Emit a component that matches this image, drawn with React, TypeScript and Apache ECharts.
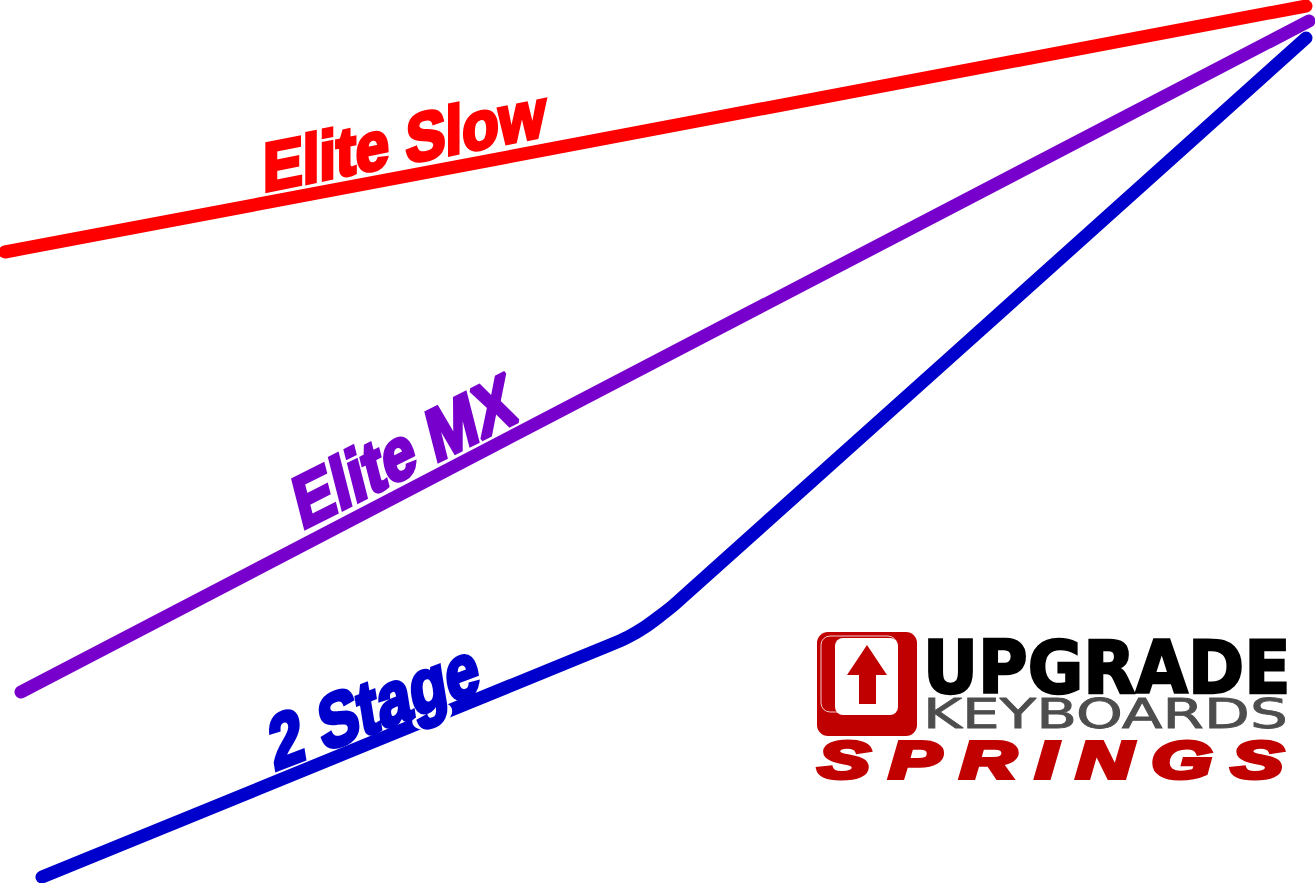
import React, { useEffect, useRef } from "react";
import * as echarts from "echarts";

const eliteSlowTravel = [5, 1306];
const eliteSlowForce = [631, 877];
const eliteMxTravel = [21, 1309];
const eliteMxForce = [191, 862];
const twoStageTravel = [42, 610, 628, 645, 660, 675, 1306];
const twoStageForce = [6, 238, 246, 256, 267, 279, 845];
const seriesNames = ["Elite Slow", "Elite MX", "2 Stage"];
const logoWords = ["UPGRADE", "KEYBOARDS", "SPRINGS"];

const RED = "#ff0000";
const PURPLE = "#7700cc";
const BLUE = "#0000cc";
const LOGO_RED = "#c00000";
const SPRINGS_RED = "#c10000";

function pairs(x: number[], y: number[]) {
  return x.map((v, i) => [v, y[i]]);
}

// Text with an arbitrary affine frame: u is the baseline direction, v the stem direction (downwards).
function affineText(
  text: string,
  color: string,
  cx: number,
  cy: number,
  u: [number, number],
  v: [number, number],
  font: any,
  z = 100,
  extra: any = {}
) {
  const [a, c] = u;
  const [b, d] = v;
  const E = (a + d) / 2, F = (a - d) / 2, G = (c + b) / 2, H = (c - b) / 2;
  const Q = Math.hypot(E, H), R = Math.hypot(F, G);
  const a1 = Math.atan2(G, F), a2 = Math.atan2(H, E);
  const theta = (a2 - a1) / 2, phi = (a2 + a1) / 2;
  return {
    type: "group",
    x: cx,
    y: cy,
    rotation: -phi,
    scaleX: Q + R,
    scaleY: Q - R,
    silent: true,
    children: [
      {
        type: "text",
        z,
        rotation: -theta,
        style: { text, fill: color, textAlign: "center", textVerticalAlign: "middle", ...font, ...extra },
      },
    ],
  };
}

function plain(text: string, fill: string, x: number, y: number, sx: number, sy: number, font: any, extra: any = {}) {
  return {
    type: "text",
    z: 100,
    x,
    y,
    scaleX: sx,
    scaleY: sy,
    silent: true,
    style: { text, fill, textAlign: "left", textVerticalAlign: "middle", ...font, ...extra },
  };
}

const labelFont = { fontFamily: "Liberation Sans", fontWeight: "bold", fontSize: 72 };

function buildGraphic() {
  return [
    affineText(seriesNames[0], RED, 404, 140, [0.83, -0.165], [0, 0.95], labelFont, 100, { stroke: RED, lineWidth: 4 }),
    affineText(seriesNames[1], PURPLE, 404, 451, [0.775, -0.39], [0.25, 0.98], labelFont, 100, { stroke: PURPLE, lineWidth: 4 }),
    { type: "ellipse", z: 50, silent: true, shape: { cx: 432, cy: 716, rx: 21, ry: 12 }, rotation: 0.38, originX: 432, originY: 716, style: { fill: "#ffffff" } },
    affineText(seriesNames[2], BLUE, 374, 705, [0.81, -0.31], [0.17, 1.03], labelFont, 100, { stroke: BLUE, lineWidth: 4 }),
    // key cap
    { type: "rect", z: 90, silent: true, shape: { x: 817, y: 632, width: 100, height: 104, r: 11 }, style: { fill: LOGO_RED } },
    { type: "rect", z: 91, silent: true, shape: { x: 821, y: 636, width: 76, height: 76, r: 9 }, style: { fill: "none", stroke: "#f4c9c9", lineWidth: 1 } },
    { type: "rect", z: 92, silent: true, shape: { x: 835, y: 638, width: 63, height: 77, r: 8 }, style: { fill: "#ffffff" } },
    {
      type: "polygon", z: 93, silent: true,
      shape: { points: [[867, 645], [887, 675], [876, 675], [876, 704], [859, 704], [859, 675], [847, 675]] },
      style: { fill: LOGO_RED },
    },
    plain(logoWords[0], "#000000", 923, 668, 0.88, 0.95, { fontFamily: "DejaVu Sans", fontWeight: "bold", fontSize: 77 }, { stroke: "#000000", lineWidth: 2.5 }),
    plain(logoWords[1], "#4d4d4d", 923, 714, 1.49, 1.0, { fontFamily: "DejaVu Sans", fontSize: 40 }, { stroke: "#4d4d4d", lineWidth: 0.8 }),
    plain(logoWords[2], SPRINGS_RED, 818, 760, 1.5, 1.0, { fontFamily: "Liberation Sans", fontWeight: "bold", fontStyle: "italic", fontSize: 52 }, { stroke: SPRINGS_RED, lineWidth: 4 }),
  ];
}

export default function App() {
  const ref = useRef<HTMLDivElement>(null);
  useEffect(() => {
    const chart = echarts.init(ref.current!, null, { renderer: "svg" });
    const lineStyle = (color: string) => ({ color, width: 13, cap: "round", join: "round" });
    chart.setOption({
      animation: false,
      backgroundColor: "#ffffff",
      grid: { left: 0, right: 0, top: 0, bottom: 0 },
      xAxis: { type: "value", min: 0, max: 1315, show: false },
      yAxis: { type: "value", min: 0, max: 883, show: false },
      series: [
        { name: seriesNames[0], type: "line", showSymbol: false, symbol: "none", lineStyle: lineStyle(RED), itemStyle: { color: RED }, data: pairs(eliteSlowTravel, eliteSlowForce) },
        { name: seriesNames[1], type: "line", showSymbol: false, symbol: "none", lineStyle: lineStyle(PURPLE), itemStyle: { color: PURPLE }, data: pairs(eliteMxTravel, eliteMxForce) },
        { name: seriesNames[2], type: "line", showSymbol: false, symbol: "none", smooth: 0.3, lineStyle: lineStyle(BLUE), itemStyle: { color: BLUE }, data: pairs(twoStageTravel, twoStageForce) },
      ],
      graphic: buildGraphic(),
    });
    return () => chart.dispose();
  }, []);
  return (
    <>
      <style>{`body{margin:0;overflow:hidden} text[fill="${SPRINGS_RED}"]{letter-spacing:12.7px}`}</style>
      <div ref={ref} style={{ position: "fixed", left: 0, top: 0, width: 1315, height: 883 }} />
    </>
  );
}
